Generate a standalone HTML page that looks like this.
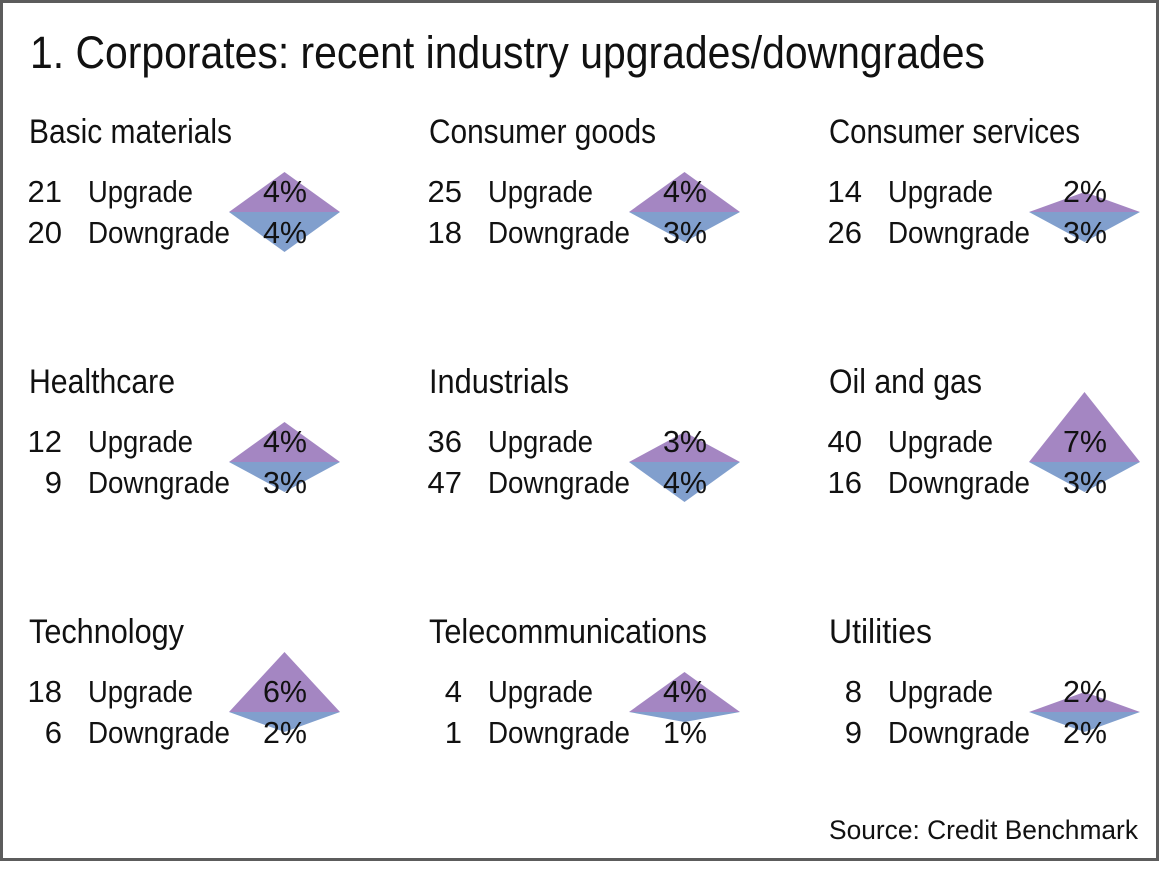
<!DOCTYPE html>
<html><head><meta charset="utf-8"><style>
html,body{margin:0;padding:0;background:#fff}
svg text{font-family:"Liberation Sans",sans-serif;fill:#111}
</style></head><body>
<svg width="1160" height="866" viewBox="0 0 1160 866" xmlns="http://www.w3.org/2000/svg">
<rect x="1.5" y="1.5" width="1156" height="858" fill="#fff" stroke="#5c5c5c" stroke-width="3"/>
<text x="30" y="68" font-size="45" textLength="955" lengthAdjust="spacingAndGlyphs">1. Corporates: recent industry upgrades/downgrades</text>
<text x="1138" y="839" font-size="27" text-anchor="end" textLength="309" lengthAdjust="spacingAndGlyphs">Source: Credit Benchmark</text>
<g font-size="31">
<g transform="translate(0,0)">
<text x="29" y="143" font-size="34" textLength="203" lengthAdjust="spacingAndGlyphs">Basic materials</text>
<polygon points="229,212 340,212 284.5,172" fill="#a486c2"/><polygon points="229,212 340,212 284.5,252" fill="#819fcd"/>
<text x="62" y="202" text-anchor="end">21</text><text x="88" y="202" textLength="105" lengthAdjust="spacingAndGlyphs">Upgrade</text><text x="307" y="202" text-anchor="end" textLength="44" lengthAdjust="spacingAndGlyphs">4%</text>
<text x="62" y="243" text-anchor="end">20</text><text x="88" y="243" textLength="142" lengthAdjust="spacingAndGlyphs">Downgrade</text><text x="307" y="243" text-anchor="end" textLength="44" lengthAdjust="spacingAndGlyphs">4%</text>
</g>
<g transform="translate(400,0)">
<text x="29" y="143" font-size="34" textLength="227" lengthAdjust="spacingAndGlyphs">Consumer goods</text>
<polygon points="229,212 340,212 284.5,172" fill="#a486c2"/><polygon points="229,212 340,212 284.5,242" fill="#819fcd"/>
<text x="62" y="202" text-anchor="end">25</text><text x="88" y="202" textLength="105" lengthAdjust="spacingAndGlyphs">Upgrade</text><text x="307" y="202" text-anchor="end" textLength="44" lengthAdjust="spacingAndGlyphs">4%</text>
<text x="62" y="243" text-anchor="end">18</text><text x="88" y="243" textLength="142" lengthAdjust="spacingAndGlyphs">Downgrade</text><text x="307" y="243" text-anchor="end" textLength="44" lengthAdjust="spacingAndGlyphs">3%</text>
</g>
<g transform="translate(800,0)">
<text x="29" y="143" font-size="34" textLength="251" lengthAdjust="spacingAndGlyphs">Consumer services</text>
<polygon points="229,212 340,212 284.5,192" fill="#a486c2"/><polygon points="229,212 340,212 284.5,242" fill="#819fcd"/>
<text x="62" y="202" text-anchor="end">14</text><text x="88" y="202" textLength="105" lengthAdjust="spacingAndGlyphs">Upgrade</text><text x="307" y="202" text-anchor="end" textLength="44" lengthAdjust="spacingAndGlyphs">2%</text>
<text x="62" y="243" text-anchor="end">26</text><text x="88" y="243" textLength="142" lengthAdjust="spacingAndGlyphs">Downgrade</text><text x="307" y="243" text-anchor="end" textLength="44" lengthAdjust="spacingAndGlyphs">3%</text>
</g>
<g transform="translate(0,250)">
<text x="29" y="143" font-size="34" textLength="146" lengthAdjust="spacingAndGlyphs">Healthcare</text>
<polygon points="229,212 340,212 284.5,172" fill="#a486c2"/><polygon points="229,212 340,212 284.5,242" fill="#819fcd"/>
<text x="62" y="202" text-anchor="end">12</text><text x="88" y="202" textLength="105" lengthAdjust="spacingAndGlyphs">Upgrade</text><text x="307" y="202" text-anchor="end" textLength="44" lengthAdjust="spacingAndGlyphs">4%</text>
<text x="62" y="243" text-anchor="end">9</text><text x="88" y="243" textLength="142" lengthAdjust="spacingAndGlyphs">Downgrade</text><text x="307" y="243" text-anchor="end" textLength="44" lengthAdjust="spacingAndGlyphs">3%</text>
</g>
<g transform="translate(400,250)">
<text x="29" y="143" font-size="34" textLength="140" lengthAdjust="spacingAndGlyphs">Industrials</text>
<polygon points="229,212 340,212 284.5,182" fill="#a486c2"/><polygon points="229,212 340,212 284.5,252" fill="#819fcd"/>
<text x="62" y="202" text-anchor="end">36</text><text x="88" y="202" textLength="105" lengthAdjust="spacingAndGlyphs">Upgrade</text><text x="307" y="202" text-anchor="end" textLength="44" lengthAdjust="spacingAndGlyphs">3%</text>
<text x="62" y="243" text-anchor="end">47</text><text x="88" y="243" textLength="142" lengthAdjust="spacingAndGlyphs">Downgrade</text><text x="307" y="243" text-anchor="end" textLength="44" lengthAdjust="spacingAndGlyphs">4%</text>
</g>
<g transform="translate(800,250)">
<text x="29" y="143" font-size="34" textLength="153" lengthAdjust="spacingAndGlyphs">Oil and gas</text>
<polygon points="229,212 340,212 284.5,142" fill="#a486c2"/><polygon points="229,212 340,212 284.5,242" fill="#819fcd"/>
<text x="62" y="202" text-anchor="end">40</text><text x="88" y="202" textLength="105" lengthAdjust="spacingAndGlyphs">Upgrade</text><text x="307" y="202" text-anchor="end" textLength="44" lengthAdjust="spacingAndGlyphs">7%</text>
<text x="62" y="243" text-anchor="end">16</text><text x="88" y="243" textLength="142" lengthAdjust="spacingAndGlyphs">Downgrade</text><text x="307" y="243" text-anchor="end" textLength="44" lengthAdjust="spacingAndGlyphs">3%</text>
</g>
<g transform="translate(0,500)">
<text x="29" y="143" font-size="34" textLength="155" lengthAdjust="spacingAndGlyphs">Technology</text>
<polygon points="229,212 340,212 284.5,152" fill="#a486c2"/><polygon points="229,212 340,212 284.5,232" fill="#819fcd"/>
<text x="62" y="202" text-anchor="end">18</text><text x="88" y="202" textLength="105" lengthAdjust="spacingAndGlyphs">Upgrade</text><text x="307" y="202" text-anchor="end" textLength="44" lengthAdjust="spacingAndGlyphs">6%</text>
<text x="62" y="243" text-anchor="end">6</text><text x="88" y="243" textLength="142" lengthAdjust="spacingAndGlyphs">Downgrade</text><text x="307" y="243" text-anchor="end" textLength="44" lengthAdjust="spacingAndGlyphs">2%</text>
</g>
<g transform="translate(400,500)">
<text x="29" y="143" font-size="34" textLength="278" lengthAdjust="spacingAndGlyphs">Telecommunications</text>
<polygon points="229,212 340,212 284.5,172" fill="#a486c2"/><polygon points="229,212 340,212 284.5,222" fill="#819fcd"/>
<text x="62" y="202" text-anchor="end">4</text><text x="88" y="202" textLength="105" lengthAdjust="spacingAndGlyphs">Upgrade</text><text x="307" y="202" text-anchor="end" textLength="44" lengthAdjust="spacingAndGlyphs">4%</text>
<text x="62" y="243" text-anchor="end">1</text><text x="88" y="243" textLength="142" lengthAdjust="spacingAndGlyphs">Downgrade</text><text x="307" y="243" text-anchor="end" textLength="44" lengthAdjust="spacingAndGlyphs">1%</text>
</g>
<g transform="translate(800,500)">
<text x="29" y="143" font-size="34" textLength="103" lengthAdjust="spacingAndGlyphs">Utilities</text>
<polygon points="229,212 340,212 284.5,192" fill="#a486c2"/><polygon points="229,212 340,212 284.5,232" fill="#819fcd"/>
<text x="62" y="202" text-anchor="end">8</text><text x="88" y="202" textLength="105" lengthAdjust="spacingAndGlyphs">Upgrade</text><text x="307" y="202" text-anchor="end" textLength="44" lengthAdjust="spacingAndGlyphs">2%</text>
<text x="62" y="243" text-anchor="end">9</text><text x="88" y="243" textLength="142" lengthAdjust="spacingAndGlyphs">Downgrade</text><text x="307" y="243" text-anchor="end" textLength="44" lengthAdjust="spacingAndGlyphs">2%</text>
</g>
</g>
</svg>
</body></html>
